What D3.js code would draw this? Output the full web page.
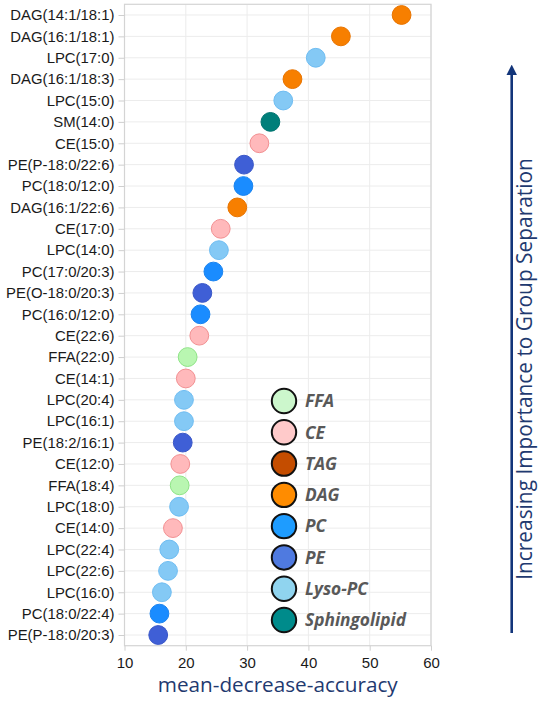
<!DOCTYPE html>
<html>
<head>
<meta charset="utf-8">
<script src="https://cdn.jsdelivr.net/npm/d3@7/dist/d3.min.js"></script>
<style>
  html, body { margin: 0; padding: 0; background: #fff; }
  svg { display: block; }
</style>
</head>
<body>
<svg id="chart" width="540" height="702"></svg>
<script>
// Lipid species, ranked by importance (top to bottom)
const lipids = [
  "DAG(14:1/18:1)", "DAG(16:1/18:1)", "LPC(17:0)", "DAG(16:1/18:3)", "LPC(15:0)",
  "SM(14:0)", "CE(15:0)", "PE(P-18:0/22:6)", "PC(18:0/12:0)", "DAG(16:1/22:6)",
  "CE(17:0)", "LPC(14:0)", "PC(17:0/20:3)", "PE(O-18:0/20:3)", "PC(16:0/12:0)",
  "CE(22:6)", "FFA(22:0)", "CE(14:1)", "LPC(20:4)", "LPC(16:1)",
  "PE(18:2/16:1)", "CE(12:0)", "FFA(18:4)", "LPC(18:0)", "CE(14:0)",
  "LPC(22:4)", "LPC(22:6)", "LPC(16:0)", "PC(18:0/22:4)", "PE(P-18:0/20:3)"
];
// Lipid class of each species
const lipidClass = [
  "DAG", "DAG", "Lyso-PC", "DAG", "Lyso-PC",
  "Sphingolipid", "CE", "PE", "PC", "DAG",
  "CE", "Lyso-PC", "PC", "PE", "PC",
  "CE", "FFA", "CE", "Lyso-PC", "Lyso-PC",
  "PE", "CE", "FFA", "Lyso-PC", "CE",
  "Lyso-PC", "Lyso-PC", "Lyso-PC", "PC", "PE"
];
// Mean decrease in accuracy
const meanDecreaseAccuracy = [
  55.2, 45.3, 41.2, 37.4, 35.9,
  33.8, 32.0, 29.5, 29.4, 28.4,
  25.7, 25.4, 24.5, 22.7, 22.4,
  22.2, 20.3, 20.0, 19.7, 19.7,
  19.5, 19.1, 19.0, 18.9, 17.9,
  17.3, 17.1, 16.1, 15.7, 15.5
];
// Legend entries
const legendClasses = ["FFA", "CE", "TAG", "DAG", "PC", "PE", "Lyso-PC", "Sphingolipid"];
// x-axis ticks
const xTicks = [10, 20, 30, 40, 50, 60];

// Colours: point fill / point outline / legend fill
const dotFill = {
  "FFA": "#b9f6b1", "CE": "#ffb9bb", "TAG": "#c44d00", "DAG": "#f77f00",
  "PC": "#1a8cff", "PE": "#3f5fd6", "Lyso-PC": "#84c9f5", "Sphingolipid": "#007f7a"
};
const dotStroke = {
  "FFA": "#8fe487", "CE": "#f29092", "TAG": "#a83f00", "DAG": "#e87400",
  "PC": "#1a84f0", "PE": "#3a57c8", "Lyso-PC": "#6fbdf2", "Sphingolipid": "#007470"
};
const legendFill = {
  "FFA": "#ccf7cc", "CE": "#ffcaca", "TAG": "#c44d00", "DAG": "#ff8c00",
  "PC": "#1e9cff", "PE": "#4f7ae0", "Lyso-PC": "#90d4ef", "Sphingolipid": "#008b8b"
};

const svg = d3.select("#chart");
const panel = { left: 124.5, right: 431, top: 4.3, bottom: 645.7 };

const x = d3.scaleLinear().domain([10, 60]).range([panel.left, panel.right]);
const y = d3.scalePoint().domain(lipids).range([panel.top, panel.bottom]).padding(0.5);

// Gridlines
const grid = svg.append("g");
grid.selectAll("line.v").data(xTicks).join("line")
  .attr("x1", d => x(d)).attr("x2", d => x(d))
  .attr("y1", panel.top).attr("y2", panel.bottom)
  .attr("stroke", "#ececec").attr("stroke-width", 1);
grid.selectAll("line.h").data(lipids).join("line")
  .attr("x1", panel.left).attr("x2", panel.right)
  .attr("y1", d => y(d)).attr("y2", d => y(d))
  .attr("stroke", "#ececec").attr("stroke-width", 1);

// Panel border
svg.append("rect")
  .attr("x", panel.left).attr("y", panel.top)
  .attr("width", panel.right - panel.left).attr("height", panel.bottom - panel.top)
  .attr("fill", "none").attr("stroke", "#d4d4d4").attr("stroke-width", 1.2);

// Y axis
const yAxis = svg.append("g")
  .attr("transform", `translate(${panel.left},0)`)
  .call(d3.axisLeft(y).tickSize(6).tickPadding(4));
yAxis.select(".domain").remove();
yAxis.selectAll(".tick line").attr("stroke", "#cfcfcf");
yAxis.selectAll(".tick text")
  .attr("fill", "#1a1a1a")
  .style("font-family", "'Liberation Sans', Arial, sans-serif")
  .style("font-size", "14.9px");

// X axis
const xAxis = svg.append("g")
  .attr("transform", `translate(0,${panel.bottom})`)
  .call(d3.axisBottom(x).tickValues(xTicks).tickSize(5).tickPadding(7));
xAxis.select(".domain").remove();
xAxis.selectAll(".tick line").attr("stroke", "#cfcfcf");
xAxis.selectAll(".tick text")
  .attr("fill", "#1a1a1a")
  .style("font-family", "'Liberation Sans', Arial, sans-serif")
  .style("font-size", "15px");

// Points
const pts = lipids.map((name, i) => ({ name, cls: lipidClass[i], value: meanDecreaseAccuracy[i] }));
svg.append("g").selectAll("circle").data(pts).join("circle")
  .attr("cx", d => x(d.value))
  .attr("cy", d => y(d.name))
  .attr("r", 9.4)
  .attr("fill", d => dotFill[d.cls])
  .attr("stroke", d => dotStroke[d.cls])
  .attr("stroke-width", 1);

// Fit a text element to a target length by adjusting its font size
function fitText(sel, target) {
  const w = sel.node().getComputedTextLength();
  const fs = parseFloat(sel.style("font-size"));
  const size = fs * target / w;
  sel.style("font-size", size + "px");
  return size;
}

// Legend
const legend = svg.append("g");
const legY = d3.scalePoint().domain(legendClasses).range([401, 620]);
legend.selectAll("circle").data(legendClasses).join("circle")
  .attr("cx", 284).attr("cy", d => legY(d)).attr("r", 12.2)
  .attr("fill", d => legendFill[d]).attr("stroke", "#111").attr("stroke-width", 2);
const legText = legend.selectAll("text").data(legendClasses).join("text")
  .attr("x", 305).attr("y", d => legY(d)).attr("dy", "0.36em")
  .attr("fill", "#595959")
  .style("font-family", "'Open Sans', sans-serif")
  .style("font-weight", "700").style("font-style", "italic")
  .style("font-size", "15.5px")
  .text(d => d);
// size all legend labels from the longest one
const legSize = fitText(legText.filter(d => d === "Sphingolipid"), 101);
legText.style("font-size", legSize + "px");

// X-axis title
const xTitle = svg.append("text")
  .attr("x", (panel.left + panel.right) / 2).attr("y", 692)
  .attr("text-anchor", "middle").attr("fill", "#1f3a70")
  .style("font-family", "'Open Sans', sans-serif").style("font-size", "20px")
  .text("mean-decrease-accuracy");
fitText(xTitle, 240);

// Direction arrow with caption
const navy = "#13357a";
svg.append("defs").append("marker")
  .attr("id", "arrowHead").attr("viewBox", "0 0 10 10")
  .attr("refX", 5).attr("refY", 5)
  .attr("markerWidth", 4.2).attr("markerHeight", 4.2)
  .attr("orient", "auto")
  .append("path").attr("d", "M0,0 L10,5 L0,10 Z").attr("fill", navy);
svg.append("line")
  .attr("x1", 511.7).attr("x2", 511.7).attr("y1", 633).attr("y2", 70)
  .attr("stroke", navy).attr("stroke-width", 2.6)
  .attr("marker-end", "url(#arrowHead)");
const sideLabel = svg.append("text")
  .attr("transform", "translate(531.5,369) rotate(-90)")
  .attr("text-anchor", "middle")
  .attr("fill", "#1f3a70")
  .style("font-family", "'Open Sans', sans-serif").style("font-size", "19px")
  .text("Increasing Importance to Group Separation");
fitText(sideLabel, 422);
</script>
</body>
</html>
